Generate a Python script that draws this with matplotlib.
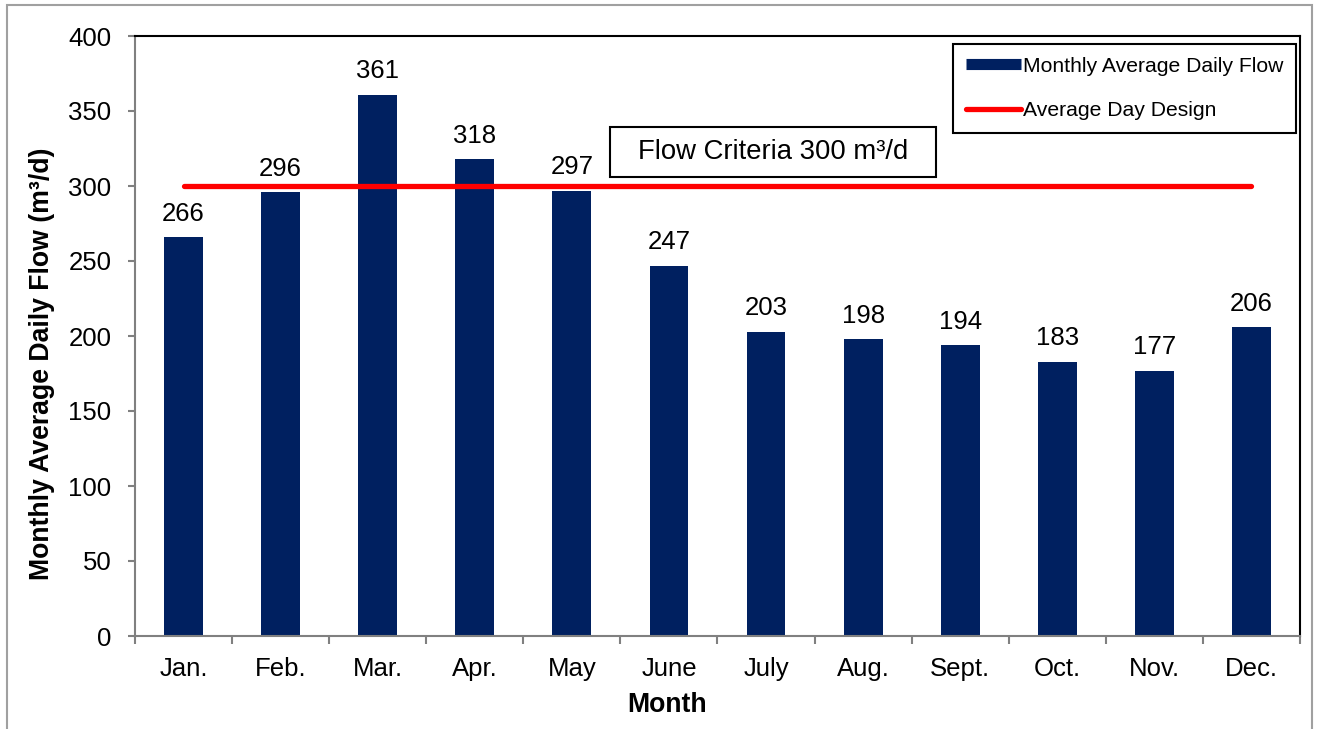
import matplotlib.pyplot as plt
from matplotlib.lines import Line2D
from matplotlib.patches import Rectangle

# Дані
months = ['Jan.', 'Feb.', 'Mar.', 'Apr.', 'May', 'June', 'July', 'Aug.', 'Sept.', 'Oct.', 'Nov.', 'Dec.']
flows = [266, 296, 361, 318, 297, 247, 203, 198, 194, 183, 177, 206]
design_flow = 300

bar_color = '#002060'
line_color = '#FF0000'

plt.rcParams['font.family'] = ['Liberation Sans', 'DejaVu Sans']

fig = plt.figure(figsize=(13.21, 7.29), dpi=100)
ax = fig.add_axes([135 / 1321, 1 - 636 / 729, 1165 / 1321, 600 / 729])

x = list(range(len(months)))
ax.bar(x, flows, width=0.4, color=bar_color, zorder=2)
ax.plot([x[0], x[-1]], [design_flow, design_flow], color=line_color, lw=3.8,
        solid_capstyle='round', zorder=3)

for xi, v in zip(x, flows):
    ax.annotate(str(v), (xi, v), xytext=(0, 8), textcoords='offset points',
                ha='center', va='bottom', fontsize=18.5)

ax.set_xlim(-0.5, 11.5)
ax.set_ylim(0, 400)
ax.set_yticks(range(0, 401, 50))
ax.set_xticks(x)
ax.set_xticklabels(months)
ax.set_xticks([i - 0.5 for i in range(13)], minor=True)
ax.tick_params(axis='x', which='major', length=0, pad=15, labelsize=18.5)
ax.tick_params(axis='x', which='minor', length=6, width=1.5, color='#808080', direction='out')
ax.tick_params(axis='y', length=5, width=1.5, color='#808080', pad=12, labelsize=18.5)

for side in ['left', 'bottom']:
    ax.spines[side].set_color('#808080')
    ax.spines[side].set_linewidth(1.5)
for side in ['top', 'right']:
    ax.spines[side].set_color('black')
    ax.spines[side].set_linewidth(1.5)

# Підписи осей
fig.text(42 / 1321, 1 - 364 / 729, 'Monthly Average Daily Flow (m³/d)', rotation=90,
         ha='center', va='center', fontsize=19.2, fontweight='bold')
fig.text(667 / 1321, 1 - 705 / 729, 'Month', ha='center', va='center',
         fontsize=19.2, fontweight='bold')

# Рамка з підписом критерію
ax.add_patch(Rectangle(((610 - 135) / 1165, (636 - 177) / 600), 326 / 1165, 50 / 600,
                       transform=ax.transAxes, fill=False, edgecolor='black', lw=1.5, zorder=4))
ax.text((773 - 135) / 1165, (636 - 152) / 600, 'Flow Criteria 300 m³/d', transform=ax.transAxes,
        ha='center', va='center', fontsize=19.8, zorder=5)

handles = [Line2D([], [], color=bar_color, lw=8, solid_capstyle='butt'),
           Line2D([], [], color=line_color, lw=3.8, solid_capstyle='round')]
leg = ax.legend(handles, ['Monthly Average Daily Flow', 'Average Day Design'],
                loc='upper right', bbox_to_anchor=(1296 / 1321, 1 - 44 / 729),
                bbox_transform=fig.transFigure, fontsize=15.2, fancybox=False,
                framealpha=1, edgecolor='black', handlelength=2.6, handletextpad=0.1,
                borderpad=0.6, labelspacing=1.2, borderaxespad=0)
leg.get_frame().set_linewidth(1.5)

# Зовнішня рамка
fig.patches.append(Rectangle((7 / 1321, -0.1), 1305 / 1321, 1.1 - 5 / 729,
                             transform=fig.transFigure, fill=False,
                             edgecolor='#A0A0A0', lw=1.5))

fig.savefig('out.png', dpi=100)
